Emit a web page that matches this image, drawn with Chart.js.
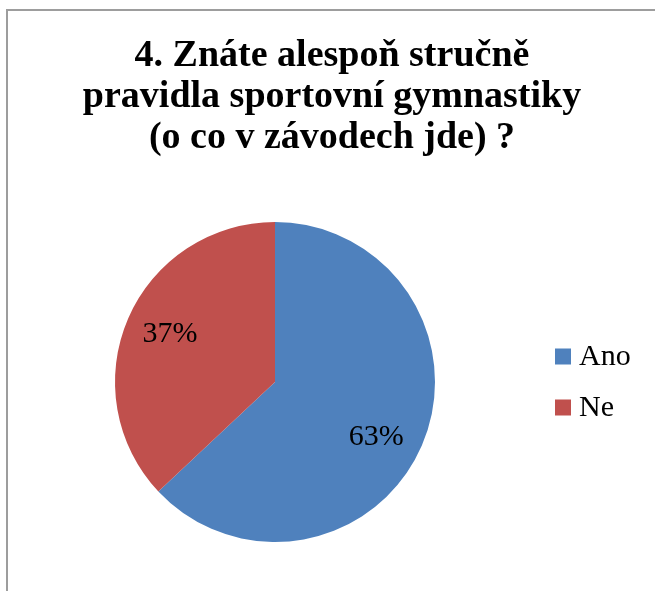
<!DOCTYPE html>
<html>
<head>
<meta charset="utf-8">
<script src="https://cdn.jsdelivr.net/npm/chart.js@4"></script>
<style>
  body { margin: 0; background: #fff; }
  #wrap { position: relative; width: 655px; height: 591px; overflow: hidden; }
  #frame {
    position: absolute; left: 6px; top: 9px; width: 700px; height: 700px;
    border-top: 2px solid #9d9d9d; border-left: 2px solid #9d9d9d;
    pointer-events: none;
  }
</style>
</head>
<body>
<div id="wrap">
  <canvas id="myChart"></canvas>
  <div id="frame"></div>
</div>
<script>
// chart data
const titleLines = ["4. Znáte alespoň stručně", "pravidla sportovní gymnastiky", "(o co v závodech jde) ?"];
const categories = ["Ano", "Ne"];
const answerShares = [63, 37];
const sliceColors = ["#4F81BD", "#C0504D"];
// small nudge of the percent labels (degrees), like Excel's best fit
const labelAngleShift = [5, 1];

const serif = "'Liberation Serif', 'Times New Roman', serif";

// title, percent labels and legend drawn on top of the pie
const textPlugin = {
  id: "textPlugin",
  afterDraw(chart) {
    const ctx = chart.ctx;
    const area = chart.chartArea;
    ctx.save();

    // title
    ctx.fillStyle = "#000";
    ctx.textAlign = "center";
    ctx.textBaseline = "alphabetic";
    ctx.font = "bold 38px " + serif;
    titleLines.forEach((line, i) => {
      ctx.fillText(line, 332, 66 + i * 41);
    });

    // percentages inside slices
    const meta = chart.getDatasetMeta(0);
    const values = chart.data.datasets[0].data;
    const total = values.reduce((a, b) => a + b, 0);
    ctx.font = "30px " + serif;
    ctx.textBaseline = "middle";
    meta.data.forEach((arc, i) => {
      const p = arc.getProps(["x", "y", "startAngle", "endAngle", "outerRadius"], true);
      const mid = (p.startAngle + p.endAngle) / 2 + labelAngleShift[i] * Math.PI / 180;
      const r = p.outerRadius * 0.72;
      const pct = Math.round(values[i] / total * 100) + "%";
      ctx.fillText(pct, p.x + Math.cos(mid) * r, p.y + Math.sin(mid) * r);
    });

    // legend on the right
    const cy = (area.top + area.bottom) / 2;
    const boxX = area.right + 120;
    ctx.textAlign = "left";
    chart.data.labels.forEach((label, i) => {
      const y = cy - 25.5 + i * 51;
      ctx.fillStyle = sliceColors[i];
      ctx.fillRect(boxX, y - 8, 16, 16);
      ctx.fillStyle = "#000";
      ctx.fillText(label, boxX + 24, y + 1);
    });

    ctx.restore();
  }
};

const ctx = document.getElementById("myChart").getContext("2d");
new Chart(ctx, {
  type: "pie",
  data: {
    labels: categories,
    datasets: [
      {
        data: answerShares,
        backgroundColor: sliceColors,
        borderWidth: 0,
      },
    ],
  },
  options: {
    responsive: true,
    maintainAspectRatio: false,
    animation: false,
    layout: {
      padding: { left: 115, right: 220, top: 222, bottom: 49 },
    },
    plugins: {
      legend: { display: false },
      title: { display: false },
      tooltip: { enabled: false },
    },
  },
  plugins: [textPlugin],
});
</script>
</body>
</html>
